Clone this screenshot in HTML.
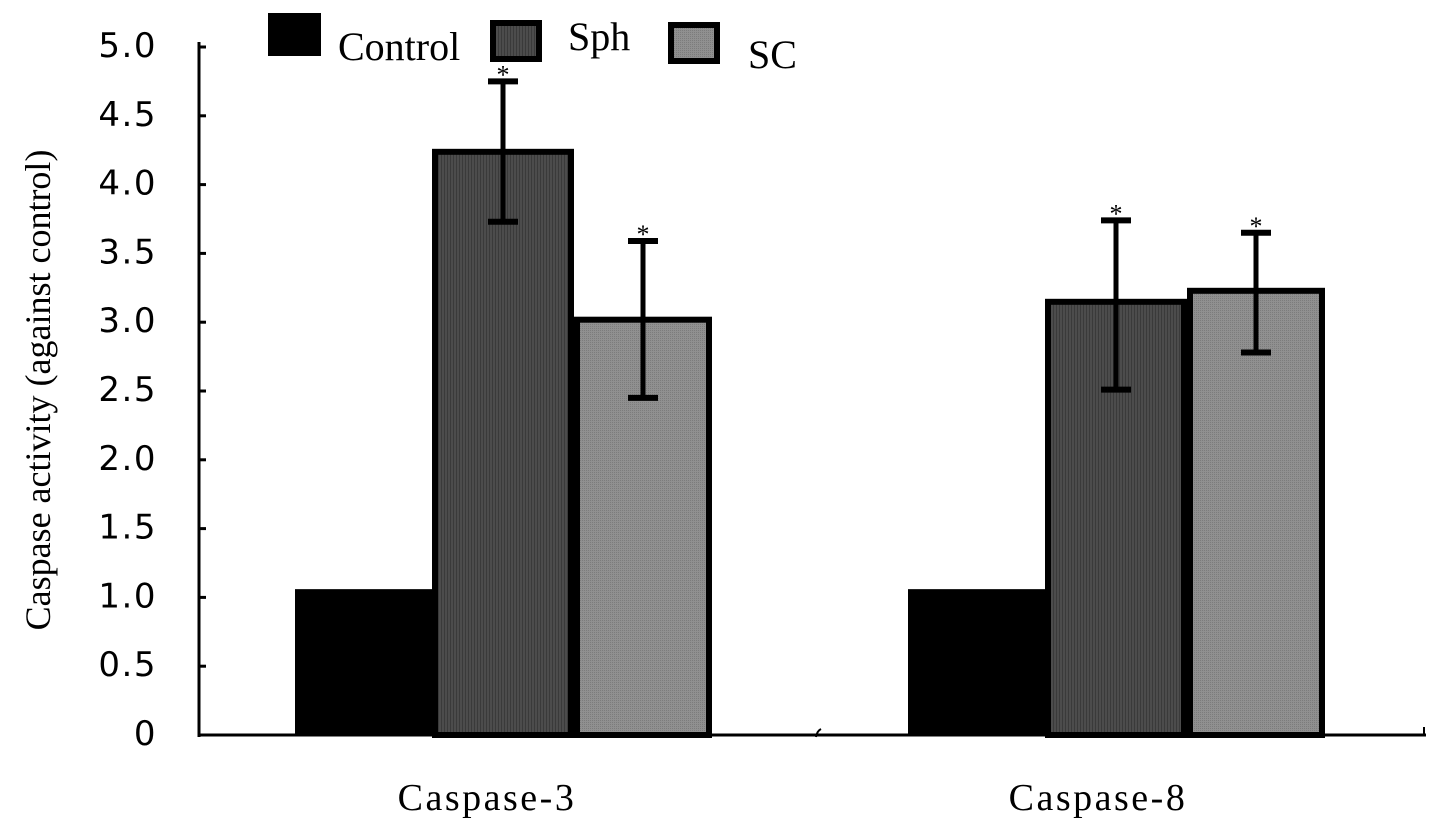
<!DOCTYPE html>
<html><head><meta charset="utf-8"><style>
html,body{margin:0;padding:0;background:#fff;}
svg{display:block;}
</style></head><body>
<svg id="chart" width="1441" height="828" viewBox="0 0 1441 828" xmlns="http://www.w3.org/2000/svg"></svg>
<script>
const categories = ["Caspase-3", "Caspase-8"];
const seriesNames = ["Control", "Sph", "SC"];
const controlValues = [1.06, 1.06];
const sphValues = [4.26, 3.17];
const scValues = [3.04, 3.25];
const sphErrHigh = [4.75, 3.74];
const sphErrLow = [3.73, 2.51];
const scErrHigh = [3.59, 3.65];
const scErrLow = [2.45, 2.78];
const yTicks = [0, 0.5, 1.0, 1.5, 2.0, 2.5, 3.0, 3.5, 4.0, 4.5, 5.0];
const yTickLabels = ["0", "0.5", "1.0", "1.5", "2.0", "2.5", "3.0", "3.5", "4.0", "4.5", "5.0"];

const NS = "http://www.w3.org/2000/svg";
const svg = document.getElementById("chart");
const y0 = 735, pxPerUnit = 137.6;
function yScale(v){ return y0 - v * pxPerUnit; }
const groupStart = [295, 908];
const barW = [137, 142, 138];
function xBar(g, s){ let x = groupStart[g]; for(let i=0;i<s;i++) x += barW[i]; return x; }
function el(tag, attrs, parent){ const e = document.createElementNS(NS, tag); for(const k in attrs) e.setAttribute(k, attrs[k]); (parent||svg).appendChild(e); return e; }

const defs = el("defs", {});
const p1 = el("pattern", {id:"sphPat", width:"3", height:"3", patternUnits:"userSpaceOnUse"}, defs);
el("rect", {width:"3", height:"3", fill:"#4c4c4c"}, p1);
el("rect", {width:"1", height:"3", fill:"#3a3a3a"}, p1);
const p2 = el("pattern", {id:"scPat", width:"2", height:"2", patternUnits:"userSpaceOnUse"}, defs);
el("rect", {width:"2", height:"2", fill:"#909090"}, p2);
el("rect", {width:"1", height:"1", fill:"#7c7c7c"}, p2);

const fills = ["#000", "url(#sphPat)", "url(#scPat)"];
const seriesVals = [controlValues, sphValues, scValues];

for(let g=0; g<categories.length; g++){
  for(let s=0; s<3; s++){
    const v = seriesVals[s][g];
    const x = xBar(g, s), w = barW[s];
    const r = el("rect", {x: s ? x+3 : x, y: s ? yScale(v)+3 : yScale(v), width: s ? w-6 : w, height: s ? (y0 - yScale(v)) - 3 : y0 - yScale(v), fill: fills[s], stroke: s ? "#000" : "none", "stroke-width": 6});
    
    
  }
}

const errs = [[1, sphErrHigh, sphErrLow], [2, scErrHigh, scErrLow]];
for(let g=0; g<categories.length; g++){
  for(const [s, hi, lo] of errs){
    const cx = xBar(g, s) + barW[s]/2;
    const grp = el("g", {});
    
    
    el("line", {x1:cx, x2:cx, y1:yScale(hi[g]), y2:yScale(lo[g]), stroke:"#000", "stroke-width":5}, grp);
    el("line", {x1:cx-15, x2:cx+15, y1:yScale(hi[g]), y2:yScale(hi[g]), stroke:"#000", "stroke-width":6}, grp);
    el("line", {x1:cx-15, x2:cx+15, y1:yScale(lo[g]), y2:yScale(lo[g]), stroke:"#000", "stroke-width":6}, grp);
    const t = el("text", {x:cx, y:yScale(hi[g]) + 2, "text-anchor":"middle", "font-family":"Liberation Serif, serif", "font-size":"26"}, grp);
    t.textContent = "*";
  }
}

const yAxis = el("line", {x1:199, x2:199, y1:42, y2:737, stroke:"#000", "stroke-width":3});


const xAxis = el("line", {x1:198, x2:1426, y1:y0, y2:y0, stroke:"#000", "stroke-width":3});


el("line", {x1:1424, x2:1424, y1:y0-8, y2:y0, stroke:"#000", "stroke-width":2});
el("path", {d:"M816 737 Q817 731 821 729", stroke:"#000", "stroke-width":2, fill:"none"});

for(let i=0; i<yTicks.length; i++){
  const y = yScale(yTicks[i]);
  if(i>0){
    const tk = el("line", {x1:199, x2:206, y1:y, y2:y, stroke:"#000", "stroke-width":3});
    
    
  }
  const lb = el("text", {x:157, y:y + 10, "text-anchor":"end", "font-family":"DejaVu Sans, sans-serif", "font-size":"34", "letter-spacing":"1.5"});
  lb.textContent = yTickLabels[i];
  
  
}

const catX = [487, 1098];
for(let g=0; g<categories.length; g++){
  const t = el("text", {x:catX[g], y:810, "text-anchor":"middle", "font-family":"Liberation Serif, serif", "font-size":"38", "letter-spacing":"2.5"});
  t.textContent = categories[g];
  
  
}

const yt = el("text", {x:0, y:0, transform:"translate(50 390) rotate(-90)", "text-anchor":"middle", "font-family":"Liberation Serif, serif", "font-size":"36"});
yt.textContent = "Caspase activity  (against control)";



const legBoxes = [[268, 13, 53, 43], [490, 20, 52, 42], [668, 22, 52, 42]];
const legText = [[338, 60], [568, 50], [748, 68]];
for(let s=0; s<3; s++){
  const g = el("g", {});
  
  
  const b = legBoxes[s];
  if(s===0) el("rect", {x:b[0], y:b[1], width:b[2], height:b[3], fill:"#000"}, g);
  else el("rect", {x:b[0]+3, y:b[1]+3, width:b[2]-6, height:b[3]-6, fill:fills[s], stroke:"#000", "stroke-width":6}, g);
  const t = el("text", {x:legText[s][0], y:legText[s][1], "font-family":"Liberation Serif, serif", "font-size":"40"}, g);
  t.textContent = seriesNames[s];
}
</script>
</body></html>
